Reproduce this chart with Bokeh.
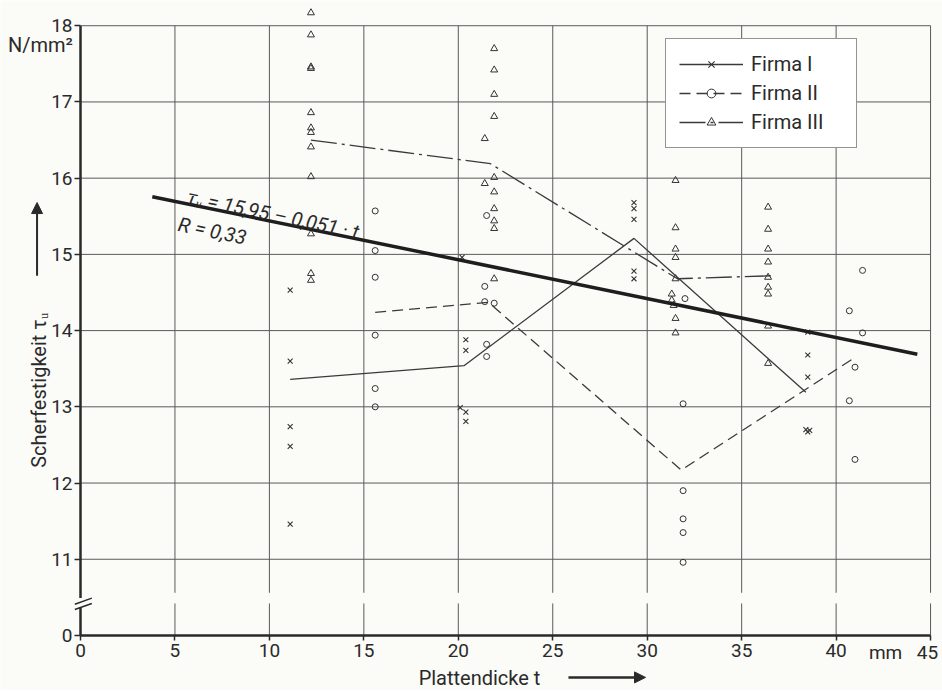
import math
from bokeh.plotting import figure
from bokeh.models import (Range1d, FixedTicker, Legend, LegendItem, Label, Arrow,
                          NormalHead)
from bokeh.embed import file_html
from bokeh.resources import INLINE

# ---------------- data ----------------
x_ticks = [0, 5, 10, 15, 20, 25, 30, 35, 40, 45]
y_ticks = [10, 11, 12, 13, 14, 15, 16, 17, 18]   # 10 is shown as "0" (broken axis)
y_tick_labels = {10: "0"}

# Firma I (x markers)
f1_t = [11.1, 11.1, 11.1, 11.1, 11.1,
        20.2, 20.4, 20.4, 20.1, 20.4, 20.4,
        29.3, 29.3, 29.3, 29.3, 29.3,
        38.5, 38.5, 38.5, 38.4, 38.6, 38.5]
f1_v = [14.53, 13.60, 12.74, 12.48, 11.46,
        14.96, 13.88, 13.74, 12.99, 12.93, 12.81,
        15.68, 15.60, 15.46, 14.78, 14.68,
        13.98, 13.68, 13.39, 12.70, 12.69, 12.67]
f1_mean_t = [11.1, 20.3, 29.3, 38.4]
f1_mean_v = [13.36, 13.54, 15.21, 13.19]

# Firma II (o markers)
f2_t = [15.6, 15.6, 15.6, 15.6, 15.6, 15.6,
        21.5, 21.4, 21.4, 21.9, 21.5, 21.5,
        32.0, 31.9, 31.9, 31.9, 31.9, 31.9,
        41.4, 40.7, 41.4, 41.0, 40.7, 41.0]
f2_v = [15.57, 15.05, 14.70, 13.94, 13.24, 13.00,
        15.51, 14.58, 14.38, 14.36, 13.82, 13.66,
        14.42, 13.04, 11.90, 11.53, 11.35, 10.96,
        14.79, 14.26, 13.97, 13.52, 13.08, 12.31]
f2_mean_t = [15.6, 21.6, 31.8, 40.95]
f2_mean_v = [14.24, 14.37, 12.17, 13.64]

# Firma III (triangle markers)
f3_t = [12.2] * 12 + \
       [21.9, 21.9, 21.9, 21.9, 21.4, 21.9, 21.4, 21.9, 21.9, 21.9, 21.9, 21.9] + \
       [31.5, 31.5, 31.5, 31.5, 31.5, 31.3, 31.3, 31.4, 31.5, 31.5] + \
       [36.4] * 9
f3_v = [18.17, 17.88, 17.46, 17.44, 16.86, 16.66, 16.60, 16.41, 16.02, 15.27, 14.75, 14.66,
        17.70, 17.42, 17.10, 16.81, 16.52, 16.01, 15.93, 15.82, 15.60, 15.44, 15.34, 14.68,
        15.97, 15.35, 15.07, 14.96, 14.68, 14.48, 14.40, 14.33, 14.16, 13.97,
        15.62, 15.33, 15.07, 14.90, 14.70, 14.57, 14.48, 14.06, 13.57]
f3_mean_t = [12.2, 21.7, 31.6, 36.6]
f3_mean_v = [16.50, 16.19, 14.68, 14.72]

# regression  tau_u = 15,95 - 0,051 * t
reg_a, reg_b = 15.95, 0.051
reg_t = [3.8, 44.3]
reg_v = [reg_a - reg_b * t for t in reg_t]

# ---------------- styling ----------------
FONT = "Roboto"
INK = "#2a2a2a"
GRID = "#5a5a5a"
BG = "#fbfbf8"

W, H = 942, 690
p = figure(width=W, height=H,
           x_range=Range1d(-4.235, 45.632), y_range=Range1d(9.278, 18.331),
           output_backend="svg", toolbar_location=None,
           min_border_left=0, min_border_right=0, min_border_top=0, min_border_bottom=0)
p.outline_line_color = None
p.grid.visible = False
p.background_fill_color = BG
p.border_fill_color = BG

# x axis, drawn at y = 10 (labelled 0)
xa = p.xaxis[0]
xa.fixed_location = 10
xa.ticker = FixedTicker(ticks=x_ticks)
xa.bounds = (0, 45)
xa.axis_line_width = 2.5
xa.axis_line_color = INK
xa.major_tick_out = 5
xa.major_tick_in = 0
xa.major_tick_line_color = INK
xa.major_tick_line_width = 1.5
xa.minor_tick_line_color = None
xa.major_label_text_font = FONT
xa.major_label_text_font_size = "19px"
xa.major_label_text_color = INK
xa.major_label_standoff = 4
xa.major_label_overrides = {45: ""}

# y axis, drawn at x = 0 (axis line drawn below because of the break)
ya = p.yaxis[0]
ya.fixed_location = 0
ya.ticker = FixedTicker(ticks=y_ticks)
ya.bounds = (10, 18)
ya.axis_line_color = None
ya.major_tick_out = 6
ya.major_tick_in = 0
ya.major_tick_line_color = INK
ya.major_tick_line_width = 1.5
ya.minor_tick_line_color = None
ya.major_label_text_font = FONT
ya.major_label_text_font_size = "19px"
ya.major_label_text_color = INK
ya.major_label_standoff = 2
ya.major_label_overrides = y_tick_labels

# grid (horizontal lines 11..18, vertical 5..45 with a gap at the axis break)
hy = [y for y in y_ticks if y > 10]
p.segment(x0=[0] * len(hy), x1=[45] * len(hy), y0=hy, y1=hy,
          line_color=GRID, line_width=1)
vx = [x for x in x_ticks if x > 0]
p.segment(x0=vx, x1=vx, y0=[10.56] * len(vx), y1=[18] * len(vx),
          line_color=GRID, line_width=1)
p.segment(x0=vx, x1=vx, y0=[10] * len(vx), y1=[10.42] * len(vx),
          line_color=GRID, line_width=1)

# y axis line with break marks
p.segment(x0=[0, 0], x1=[0, 0], y0=[10, 10.49], y1=[10.37, 18],
          line_color=INK, line_width=2.5)
p.segment(x0=[-0.3, -0.3], x1=[0.6, 0.6], y0=[10.34, 10.41], y1=[10.42, 10.49],
          line_color=INK, line_width=1.5)

# mean lines
l1 = p.line(f1_mean_t, f1_mean_v, line_color="#3a3a3a", line_width=1.3)
l2 = p.line(f2_mean_t, f2_mean_v, line_color="#3a3a3a", line_width=1.3, line_dash="11 6")
l3 = p.line(f3_mean_t, f3_mean_v, line_color="#3a3a3a", line_width=1.3, line_dash="26 5 3 5")

# points
s1 = p.scatter(f1_t, f1_v, marker="x", size=7, line_color="#333333", line_width=1.1)
s2 = p.scatter(f2_t, f2_v, marker="circle", size=6, line_color="#333333",
               fill_color=None, line_width=1)
s3 = p.scatter(f3_t, f3_v, marker="triangle", size=7, line_color="#333333",
               fill_color=None, line_width=1)

# regression line
p.line(reg_t, reg_v, line_color="#1e1e1e", line_width=3.5)

ang = -0.205
p.add_layout(Label(x=5.66, y=15.76, text="τᵤ = 15,95 – 0,051 · t", angle=ang,
                   text_font=FONT, text_font_style="italic", text_font_size="20px",
                   text_color=INK, text_baseline="alphabetic", text_align="left"))
p.add_layout(Label(x=5.19, y=15.40, text="R = 0,33", angle=ang,
                   text_font=FONT, text_font_style="italic", text_font_size="20px",
                   text_color=INK, text_baseline="alphabetic", text_align="left"))

# legend
legend = Legend(items=[
    LegendItem(label="Firma I", renderers=[l1, s1]),
    LegendItem(label="Firma II", renderers=[l2, s2]),
    LegendItem(label="Firma III", renderers=[l3, s3]),
], location=(665, 542))
legend.glyph_width = 64
legend.glyph_height = 22
legend.label_height = 22
legend.label_width = 92
legend.spacing = 5
legend.padding = 13
legend.margin = 0
legend.label_standoff = 8
legend.label_text_font = FONT
legend.label_text_font_size = "20px"
legend.label_text_color = INK
legend.border_line_color = INK
legend.border_line_width = 1.2
legend.background_fill_color = "white"
legend.background_fill_alpha = 1
p.add_layout(legend)

# axis titles with arrows, unit and last tick label
p.add_layout(Label(x=-2.12, y=17.75, text="N/mm²",
                   text_font=FONT, text_font_size="20px", text_color=INK,
                   text_align="center", text_baseline="middle"))
p.add_layout(Label(x=-2.22, y=12.20, text="Scherfestigkeit τᵤ", angle=math.pi / 2,
                   text_font=FONT, text_font_size="20px", text_color=INK,
                   text_align="left", text_baseline="middle"))
p.add_layout(Arrow(x_start=-2.3, y_start=14.72, x_end=-2.3, y_end=15.68,
                   line_color=INK, line_width=2,
                   end=NormalHead(size=11, fill_color=INK, line_color=INK)))
p.add_layout(Label(x=17.9, y=9.44, text="Plattendicke t",
                   text_font=FONT, text_font_size="20px", text_color=INK,
                   text_align="left", text_baseline="middle"))
p.add_layout(Arrow(x_start=25.83, y_start=9.45, x_end=29.91, y_end=9.45,
                   line_color=INK, line_width=2.5,
                   end=NormalHead(size=11, fill_color=INK, line_color=INK)))
p.add_layout(Label(x=42.62, y=9.78, text="mm",
                   text_font=FONT, text_font_size="19px", text_color=INK,
                   text_align="center", text_baseline="middle"))
p.add_layout(Label(x=45.4, y=9.78, text="45",
                   text_font=FONT, text_font_size="19px", text_color=INK,
                   text_align="right", text_baseline="middle"))

open("out.html", "w").write(file_html(p, INLINE))
